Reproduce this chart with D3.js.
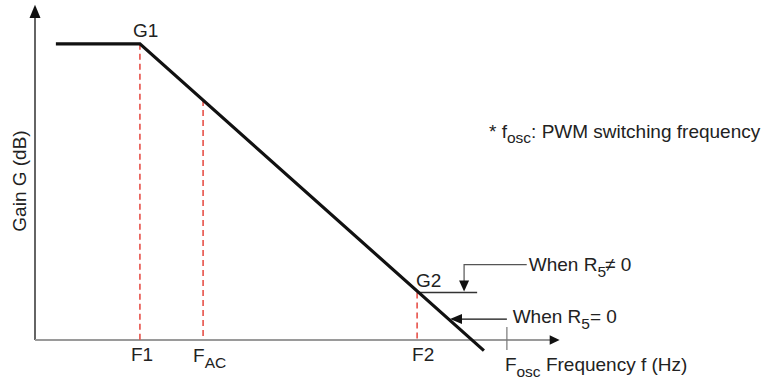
<!DOCTYPE html>
<html><head><meta charset="utf-8">
<script src="https://cdn.jsdelivr.net/npm/d3@7"></script>
<style>
html,body{margin:0;padding:0;background:#fff;}
text{font-family:"Liberation Sans",Arial,sans-serif;fill:#222;}
</style></head>
<body><svg id="c" width="762" height="379"></svg>
<script>
// ---- data (abstract chart units) ----
const gainCurveF = [4, 20.1, 86];          // frequency positions of the gain curve vertices
const gainCurveG = [89.2, 89.2, -3.2];     // gain values at those vertices
const markerNames = ["F1", "FAC", "F2"];
const markerF = [20.1, 32.2, 73.2];
const markerG = [89.2, 72.3, 14.3];
const gainLabels = ["G1", "G2"];
const oscF = 90.4;
const g2LineEndF = 84.7;
const notes = ["When R5\u2260 0", "When R5= 0"];
const footnote = "* fosc: PWM switching frequency";
const axisTitles = ["Gain G (dB)", "Frequency f (Hz)"];

const svg = d3.select("#c");
const x = d3.scaleLinear().domain([0, 100]).range([35, 557]);
const y = d3.scaleLinear().domain([0, 100]).range([340, 8]);

function tri(points){ return "M" + points.map(p=>p.join(",")).join("L") + "Z"; }

// axes
svg.append("line").attr("x1", x(0)).attr("x2", x(0)).attr("y1", y(0)).attr("y2", y(97))
  .attr("stroke", "#111").attr("stroke-width", 1.3);
svg.append("path").attr("d", tri([[x(0), y(101)], [x(0)-5.5, y(97)], [x(0)+5.5, y(97)]])).attr("fill", "#111");
svg.append("line").attr("x1", x(0)).attr("x2", x(99)).attr("y1", y(0)).attr("y2", y(0))
  .attr("stroke", "#9a9a9a").attr("stroke-width", 2);
svg.append("path").attr("d", tri([[x(100.5), y(0)], [x(98.6), y(0)-4.8], [x(98.6), y(0)+4.8]])).attr("fill", "#111");

// Fosc tick
svg.append("line").attr("x1", x(oscF)).attr("x2", x(oscF)).attr("y1", y(0)-13).attr("y2", y(0)+10)
  .attr("stroke", "#777").attr("stroke-width", 1.2);

// dashed red markers
svg.selectAll(".mk").data(markerF).enter().append("line")
  .attr("x1", d=>x(d)).attr("x2", d=>x(d))
  .attr("y1", (d,i)=>y(markerG[i])).attr("y2", y(0))
  .attr("stroke", "#e5453d").attr("stroke-width", 1.5).attr("stroke-dasharray", "6,4");

// G2 horizontal line
svg.append("line").attr("x1", x(markerF[2])).attr("x2", x(g2LineEndF))
  .attr("y1", y(markerG[2])).attr("y2", y(markerG[2]))
  .attr("stroke", "#333").attr("stroke-width", 1.5);

// gain curve
const pts = gainCurveF.map((f,i)=>[f, gainCurveG[i]]);
svg.append("path").datum(pts)
  .attr("d", d3.line().x(d=>x(d[0])).y(d=>y(d[1])))
  .attr("fill", "none").attr("stroke", "#111").attr("stroke-width", 3.2)
  .attr("stroke-linejoin", "miter");

// annotation: R5 != 0 (arrow down onto G2 line)
const a1x = x(82.2), a1top = y(22.7), a1tip = y(markerG[2]) - 1;
svg.append("path").attr("d", `M${x(94.2)},${a1top}H${a1x}V${a1tip-10}`)
  .attr("fill", "none").attr("stroke", "#555").attr("stroke-width", 1.2);
svg.append("path").attr("d", tri([[a1x, a1tip], [a1x-5, a1tip-11], [a1x+5, a1tip-11]])).attr("fill", "#111");

// annotation: R5 = 0 (arrow left onto curve)
const a2y = y(6.3), a2tip = x(79.5);
svg.append("line").attr("x1", x(90.4)).attr("x2", a2tip+11).attr("y1", a2y).attr("y2", a2y)
  .attr("stroke", "#111").attr("stroke-width", 1.2);
svg.append("path").attr("d", tri([[a2tip, a2y], [a2tip+12, a2y-5], [a2tip+12, a2y+5]])).attr("fill", "#111");

const FS = 19, SUB = 15.5;
function sublabel(px, py, main, sub, after, anchor){
  const t = svg.append("text").attr("x", px).attr("y", py).attr("font-size", FS).attr("text-anchor", anchor||"start");
  t.append("tspan").text(main);
  if (sub) t.append("tspan").attr("font-size", SUB).attr("dy", 6).text(sub);
  if (after) t.append("tspan").attr("dy", sub ? -6 : 0).text(after);
  return t;
}

// gain labels
sublabel(x(markerF[0]) - 7, y(markerG[0]) - 7, gainLabels[0]);
sublabel(x(markerF[2]) - 1, y(markerG[2]) - 6, gainLabels[1]);

// frequency labels
sublabel(x(markerF[0]) - 9, 361, "F1");
sublabel(x(markerF[1]) - 10, 362, "F", "AC");
sublabel(x(markerF[2]) - 5, 361, "F2");
sublabel(x(oscF) - 2, 371, "F", "osc", " " + axisTitles[1]);

// notes
(function(){
  const t = svg.append("text").attr("x", x(94.6)).attr("y", 271).attr("font-size", FS);
  t.append("tspan").text("When R");
  t.append("tspan").attr("font-size", SUB).attr("dy", 6).text("5");
  t.append("tspan").attr("dy", -6).attr("dx", -1).text("\u2260 0");
})();
(function(){
  const t = svg.append("text").attr("x", x(91.5)).attr("y", 323).attr("font-size", FS);
  t.append("tspan").text("When R");
  t.append("tspan").attr("font-size", SUB).attr("dy", 6).text("5");
  t.append("tspan").attr("dy", -6).text("= 0");
})();

// footnote
(function(){
  const t = svg.append("text").attr("x", 489).attr("y", 138).attr("font-size", FS);
  t.append("tspan").text("* f");
  t.append("tspan").attr("font-size", SUB).attr("dy", 5).text("osc");
  t.append("tspan").attr("dy", -5).text(": PWM switching frequency");
})();

// y axis title
svg.append("text").attr("transform", "translate(26,181) rotate(-90)")
  .attr("text-anchor", "middle").attr("font-size", FS).text(axisTitles[0]);
</script></body></html>
